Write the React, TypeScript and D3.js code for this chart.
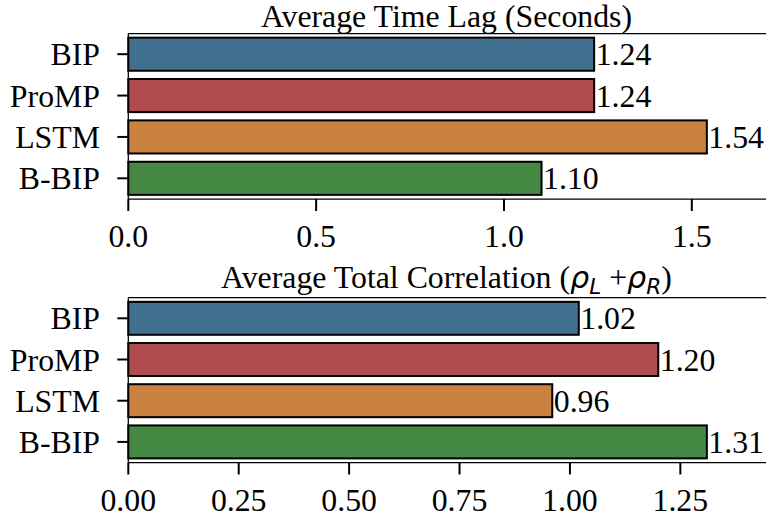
import * as d3 from 'd3';
import { useRef, useEffect } from 'react';

const categories = ['BIP', 'ProMP', 'LSTM', 'B-BIP'];
const timeLag = [1.24, 1.24, 1.54, 1.10];
const correlation = [1.02, 1.20, 0.96, 1.31];
const timeLagTicks = [0, 0.5, 1.0, 1.5];
const correlationTicks = [0, 0.25, 0.5, 0.75, 1.0, 1.25];
const colors = ['#41708f', '#b04c50', '#c9823f', '#468944'];

const W = 766;
const H = 519;
const FONT = '"Liberation Serif", "Times New Roman", serif';
const FS = 31.8;

export default function App() {
    const svgRef = useRef<SVGSVGElement>(null);

    useEffect(() => {
        if (!svgRef.current) return;
        const svg = d3.select(svgRef.current);
        svg.selectAll('*').remove();

        const left = 128.3;
        const right = 764.7;

        const panels = [
            { values: timeLag, ticks: timeLagTicks, fmt: d3.format('.1f'), top: 33.5, bottom: 199, titleY: 27, title: 'lag' },
            { values: correlation, ticks: correlationTicks, fmt: d3.format('.2f'), top: 297.7, bottom: 462.5, titleY: 288.3, title: 'corr' },
        ];

        panels.forEach(p => {
            const g = svg.append('g');

            const x = d3.scaleLinear()
                .domain([0, (d3.max(p.values) || 1) * 1.1])
                .range([left, right]);

            const y = d3.scaleBand<string>()
                .domain(categories)
                .range([p.top, p.bottom])
                .paddingInner(0.2)
                .paddingOuter(0.1);

            // bars
            g.selectAll('.bar')
                .data(p.values)
                .enter()
                .append('rect')
                .attr('x', x(0))
                .attr('y', (_, i) => y(categories[i]) || 0)
                .attr('width', d => x(d) - x(0))
                .attr('height', y.bandwidth())
                .attr('fill', (_, i) => colors[i])
                .attr('stroke', '#000')
                .attr('stroke-width', 2);

            // value labels
            g.selectAll('.val')
                .data(p.values)
                .enter()
                .append('text')
                .attr('x', d => x(d) + 1.5)
                .attr('y', (_, i) => (y(categories[i]) || 0) + y.bandwidth() / 2)
                .attr('dy', '0.35em')
                .attr('font-family', FONT)
                .attr('font-size', FS)
                .attr('fill', '#000')
                .text(d => d3.format('.2f')(d));

            // spines
            g.append('line').attr('x1', left).attr('x2', W + 2).attr('y1', p.top).attr('y2', p.top)
                .attr('stroke', '#000').attr('stroke-width', 1.25);
            g.append('line').attr('x1', left).attr('x2', W + 2).attr('y1', p.bottom).attr('y2', p.bottom)
                .attr('stroke', '#000').attr('stroke-width', 1.25);
            g.append('line').attr('x1', left).attr('x2', left).attr('y1', p.top).attr('y2', p.bottom)
                .attr('stroke', '#000').attr('stroke-width', 1.25);

            // y ticks
            categories.forEach(c => {
                const cy = (y(c) || 0) + y.bandwidth() / 2;
                g.append('line').attr('x1', left - 11).attr('x2', left).attr('y1', cy).attr('y2', cy)
                    .attr('stroke', '#000').attr('stroke-width', 2);
                g.append('text')
                    .attr('x', 100)
                    .attr('y', cy)
                    .attr('dy', '0.35em')
                    .attr('text-anchor', 'end')
                    .attr('font-family', FONT)
                    .attr('font-size', FS)
                    .text(c);
            });

            // x ticks
            p.ticks.forEach(t => {
                g.append('line').attr('x1', x(t)).attr('x2', x(t)).attr('y1', p.bottom).attr('y2', p.bottom + 12)
                    .attr('stroke', '#000').attr('stroke-width', 2);
                g.append('text')
                    .attr('x', x(t))
                    .attr('y', p.bottom + 48)
                    .attr('text-anchor', 'middle')
                    .attr('font-family', FONT)
                    .attr('font-size', FS)
                    .text(p.fmt(t));
            });

            // title
            const cx = (left + right) / 2;
            const title = g.append('text')
                .attr('x', cx)
                .attr('y', p.titleY)
                .attr('text-anchor', 'middle')
                .attr('font-family', FONT)
                .attr('font-size', FS);
            if (p.title === 'lag') {
                title.text('Average Time Lag (Seconds)');
            } else {
                const rho = (sub: string) => {
                    title.append('tspan')
                        .attr('font-family', '"DejaVu Sans", sans-serif')
                        .attr('font-style', 'italic')
                        .attr('font-size', FS * 0.95)
                        .text('\u03C1');
                    title.append('tspan')
                        .attr('font-family', '"DejaVu Sans", sans-serif')
                        .attr('font-style', 'italic')
                        .attr('font-size', FS * 0.68)
                        .attr('dy', 6)
                        .text(sub);
                };
                title.append('tspan').text('Average Total Correlation (');
                rho('L');
                title.append('tspan').attr('dy', -6).text('\u00A0+');
                rho('R');
                title.append('tspan').attr('dy', -6).text(')');
            }
        });
    }, []);

    return (
        <svg
            ref={svgRef}
            width={W}
            height={H}
            style={{ position: 'absolute', left: 0, top: 0, background: '#fff' }}
        />
    );
}
